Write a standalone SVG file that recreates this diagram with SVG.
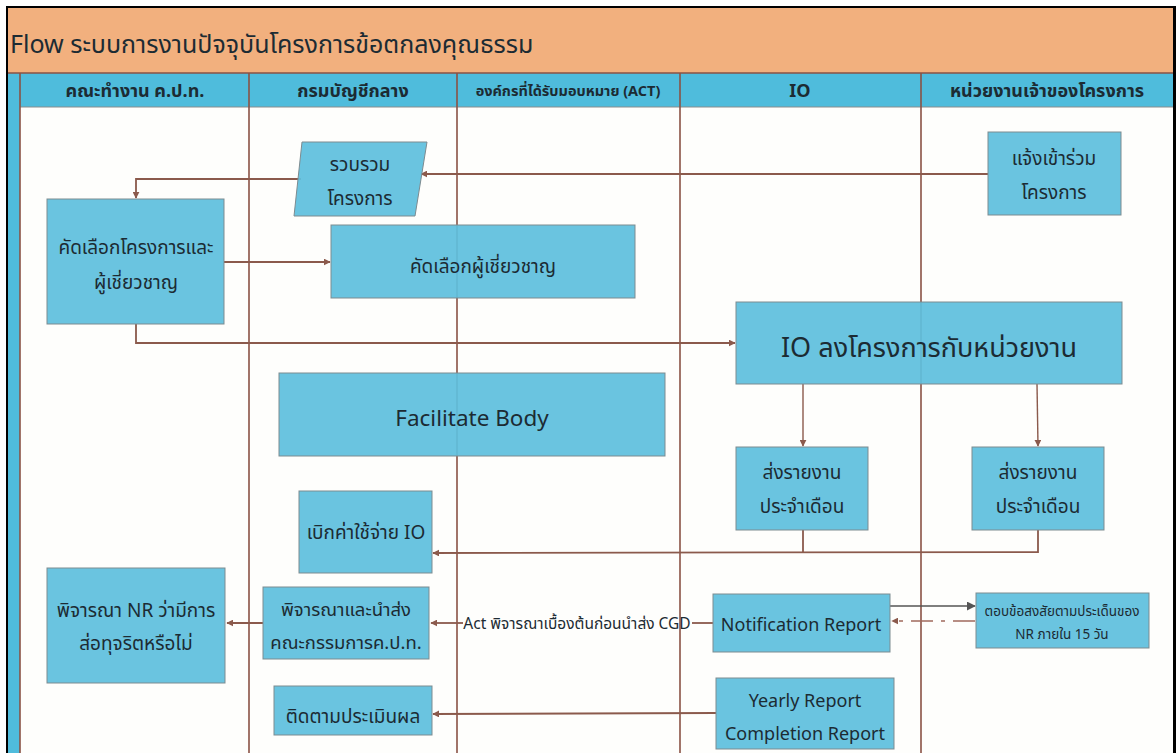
<svg xmlns="http://www.w3.org/2000/svg" width="1176" height="753" viewBox="0 0 1176 753">
<defs>
<style>
.t{font-family:"Noto Sans Thai","Noto Sans","Liberation Sans",sans-serif;fill:#1c2b33;text-anchor:middle}
.box{fill:#5fc0de;fill-opacity:0.93;stroke:#7d8b90;stroke-width:1}
.lane{stroke:#8a5244;stroke-width:1.6;fill:none}
.c{stroke:#8b5a4c;stroke-width:1.8;fill:none}
.h{font-family:"Noto Sans Thai","Noto Sans","Liberation Sans",sans-serif;fill:#1c2b33;text-anchor:middle;font-size:18px;font-weight:bold}
</style>
<marker id="a" viewBox="0 0 10 10" refX="9" refY="5" markerWidth="7" markerHeight="7" markerUnits="userSpaceOnUse" orient="auto"><path d="M0,0 L10,5 L0,10 z" fill="#8b5a4c"/></marker>
<marker id="ag" viewBox="0 0 10 10" refX="9" refY="5" markerWidth="9" markerHeight="9" markerUnits="userSpaceOnUse" orient="auto"><path d="M0,0 L10,5 L0,10 z" fill="#555"/></marker>
</defs>
<rect x="0" y="0" width="1176" height="753" fill="#ffffff"/>
<rect x="6" y="6" width="1170" height="747" fill="#000"/>
<rect x="8" y="8" width="1165" height="745" fill="#fefefc"/>
<rect x="8" y="8" width="1165" height="65" fill="#f2b07e"/>
<text x="10" y="53" font-family="'Noto Sans Thai','Noto Sans','Liberation Sans',sans-serif" font-size="25" fill="#1c2b33">Flow ระบบการงานปัจจุบันโครงการข้อตกลงคุณธรรม</text>
<rect x="8" y="73" width="1165" height="34" fill="#4fbcdc"/>
<rect x="8" y="73" width="12" height="680" fill="#4fbcdc"/>
<line x1="8" y1="73" x2="1173" y2="73" stroke="#8a5244" stroke-width="1.5"/>
<line x1="20" y1="107" x2="1173" y2="107" stroke="#8c8c8c" stroke-width="1"/>
<g id="lanes">
<line class="lane" x1="20" y1="73" x2="20" y2="753"/>
<line class="lane" x1="249" y1="73" x2="249" y2="753"/>
<line class="lane" x1="457" y1="73" x2="457" y2="753"/>
<line class="lane" x1="680" y1="73" x2="680" y2="753"/>
<line class="lane" x1="921" y1="73" x2="921" y2="753"/>
<text class="h" x="135" y="97">คณะทำงาน ค.ป.ท.</text>
<text class="h" x="353" y="97">กรมบัญชีกลาง</text>
<text class="h" x="568" y="96" style="font-size:14.5px">องค์กรที่ได้รับมอบหมาย (ACT)</text>
<text class="h" x="800" y="97">IO</text>
<text class="h" x="1047" y="97">หน่วยงานเจ้าของโครงการ</text>
</g>
<g id="connectors">
<path class="c" d="M988,174 L421,174" marker-end="url(#a)"/>
<path class="c" d="M301,179 L136,179 L136,198" marker-end="url(#a)"/>
<path class="c" d="M224,262 L330,262" marker-end="url(#a)"/>
<path class="c" d="M136,324 L136,343 L735,343" marker-end="url(#a)"/>
<path class="c" d="M803,384 L803,446" marker-end="url(#a)" style="stroke-width:1.4"/>
<path class="c" d="M1037,384 L1038,446" marker-end="url(#a)" style="stroke-width:1.4"/>
<path class="c" d="M803,530 L803,552"/>
<path class="c" d="M1038,530 L1038,552 L433,553" marker-end="url(#a)"/>
<path class="c" d="M263,623 L227,623" marker-end="url(#a)"/>
<path class="c" d="M713,623 L692,623"/>
<path class="c" d="M463,623 L431,623" marker-end="url(#a)"/>
<path d="M890,606 L975,606" stroke="#555" stroke-width="1.6" fill="none" marker-end="url(#ag)"/>
<path d="M975,621 L892,621" stroke="#a06a5c" stroke-width="1.6" fill="none" stroke-dasharray="22,8,4,8" marker-end="url(#a)"/>
<path class="c" d="M716,713 L433,714" marker-end="url(#a)"/>
<text x="577" y="629" font-family="'Noto Sans Thai','Noto Sans','Liberation Sans',sans-serif" font-size="15.5" fill="#1c2b33" text-anchor="middle">Act พิจารณาเบื้องต้นก่อนนำส่ง CGD</text>
</g>
<g id="n1"><polygon class="box" points="302,142 427,142 415,216 294,216"/><text class="t" x="360" y="171" font-size="19">รวบรวม</text><text class="t" x="360" y="205" font-size="19">โครงการ</text></g>
<g id="n2"><rect class="box" x="988" y="132" width="133" height="83"/><text class="t" x="1054" y="165" font-size="19">แจ้งเข้าร่วม</text><text class="t" x="1054" y="199" font-size="19">โครงการ</text></g>
<g id="n3"><rect class="box" x="47" y="199" width="177" height="125"/><text class="t" x="136" y="254" font-size="19">คัดเลือกโครงการและ</text><text class="t" x="136" y="289" font-size="19">ผู้เชี่ยวชาญ</text></g>
<g id="n4"><rect class="box" x="331" y="225" width="304" height="73"/><text class="t" x="483" y="273" font-size="19">คัดเลือกผู้เชี่ยวชาญ</text></g>
<g id="n5"><rect class="box" x="736" y="302" width="386" height="82"/><text class="t" x="929" y="357" font-size="27">IO ลงโครงการกับหน่วยงาน</text></g>
<g id="n6"><rect class="box" x="279" y="373" width="386" height="83"/><text class="t" x="472" y="426" font-size="22.5">Facilitate Body</text></g>
<g id="n7"><rect class="box" x="736" y="447" width="132" height="83"/><text class="t" x="802" y="479" font-size="19">ส่งรายงาน</text><text class="t" x="802" y="513" font-size="19">ประจำเดือน</text></g>
<g id="n8"><rect class="box" x="972" y="447" width="132" height="83"/><text class="t" x="1038" y="479" font-size="19">ส่งรายงาน</text><text class="t" x="1038" y="513" font-size="19">ประจำเดือน</text></g>
<g id="n9"><rect class="box" x="299" y="491" width="133" height="82"/><text class="t" x="366" y="539" font-size="19">เบิกค่าใช้จ่าย IO</text></g>
<g id="n10"><rect class="box" x="47" y="568" width="178" height="115"/><text class="t" x="136" y="617" font-size="19">พิจารณา NR ว่ามีการ</text><text class="t" x="136" y="650" font-size="19">ส่อทุจริตหรือไม่</text></g>
<g id="n11"><rect class="box" x="263" y="587" width="166" height="72"/><text class="t" x="346" y="616" font-size="18.5">พิจารณาและนำส่ง</text><text class="t" x="346" y="649" font-size="18.5">คณะกรรมการค.ป.ท.</text></g>
<g id="n12"><rect class="box" x="713" y="594" width="177" height="58"/><text class="t" x="801" y="631" font-size="18">Notification Report</text></g>
<g id="n13"><rect class="box" x="976" y="593" width="173" height="55"/><text class="t" x="1062" y="616" font-size="13.5">ตอบข้อสงสัยตามประเด็นของ</text><text class="t" x="1062" y="639" font-size="13.5">NR ภายใน 15 วัน</text></g>
<g id="n14"><rect class="box" x="274" y="686" width="158" height="49"/><text class="t" x="353" y="723" font-size="19">ติดตามประเมินผล</text></g>
<g id="n15"><rect class="box" x="716" y="678" width="178" height="71"/><text class="t" x="805" y="707" font-size="18">Yearly Report</text><text class="t" x="805" y="740" font-size="18">Completion Report</text></g>
</svg>
